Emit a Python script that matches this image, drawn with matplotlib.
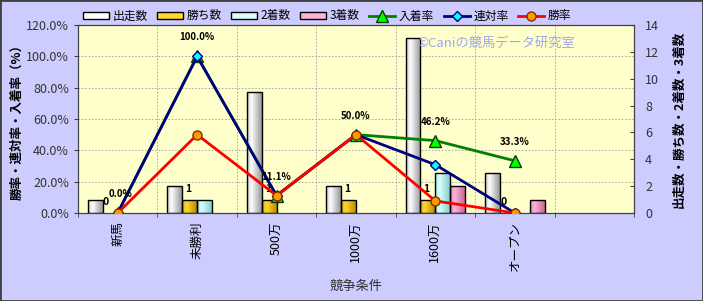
import numpy as np
import matplotlib
matplotlib.use('Agg')
import matplotlib.pyplot as plt
from matplotlib.patches import Rectangle

plt.rcParams['font.family'] = ['Noto Sans CJK JP', 'DejaVu Sans']

# data
categories = ['新馬', '未勝利', '500万', '1000万', '1600万', 'オープン']
runs = [1, 2, 9, 2, 13, 3]          # 出走数
wins = [0, 1, 1, 1, 1, 0]           # 勝ち数
seconds = [0, 1, 0, 0, 3, 0]        # 2着数
thirds = [0, 0, 0, 0, 2, 1]         # 3着数
place_rate = [0.0, 100.0, 11.1, 50.0, 46.2, 33.3]   # 入着率
top2_rate = [0.0, 100.0, 11.1, 50.0, 30.8, 0.0]     # 連対率
win_rate = [0.0, 50.0, 11.1, 50.0, 7.7, 0.0]        # 勝率
place_labels = ['0.0%', '100.0%', '11.1%', '50.0%', '46.2%', '33.3%']

bg = '#CCCCFF'
plot_bg = '#FFFFCC'

fig = plt.figure(figsize=(7.03, 3.01), dpi=100, facecolor=bg)
ax = fig.add_axes([78 / 703, 1 - 213 / 301, 556 / 703, 188 / 301])
ax.set_facecolor(plot_bg)

x = np.arange(len(categories))
w = 0.188
bar_series = [
    (runs, '出走数', '#8c8c8c', '#ffffff'),
    (wins, '勝ち数', '#b38600', '#ffd633'),
    (seconds, '2着数', '#7fc8c8', '#d9ffff'),
    (thirds, '3着数', '#c0608f', '#ffb3d9'),
]


def shade_bars(bars, dark, light):
    # cylinder-like horizontal gradient clipped to each bar
    cmap = matplotlib.colors.LinearSegmentedColormap.from_list('g', [dark, light, dark], N=64)
    grad = np.linspace(0, 1, 64).reshape(1, -1)
    grad = np.interp(grad, [0, 0.3, 1], [0.25, 0.5, 0.95])
    for b in bars:
        if b.get_height() <= 0:
            continue
        x0, y0 = b.get_x(), b.get_y()
        im = ax.imshow(grad, cmap=cmap, vmin=0, vmax=1, aspect='auto',
                       extent=[x0, x0 + b.get_width(), y0, y0 + b.get_height()],
                       zorder=2, interpolation='bicubic')
        im.set_clip_path(b)


handles = []
for i, (vals, name, dark, light) in enumerate(bar_series):
    pos = x - 1.5 * w + i * w
    bars = ax.bar(pos, vals, w, color=light, edgecolor='black', linewidth=1.0,
                  label=name, zorder=3)
    for b in bars:
        b.set_facecolor('none')
        if b.get_height() <= 0:
            b.set_edgecolor('none')
    shade_bars(bars, dark, light)
    handles.append(Rectangle((0, 0), 1, 1, facecolor=light, edgecolor='black', linewidth=1.0))
    if name == '勝ち数':
        for xi, v in zip(pos, vals):
            ax.annotate(str(v), (xi, v), xytext=(-3 if v == 0 else -1, 4),
                        textcoords='offset points',
                        ha='center', va='bottom', fontsize=7.5, fontweight='bold')

ax.set_xlim(-0.5, 6.5)
ax.set_ylim(0, 14)
ax.set_xticks(x)
ax.set_xticklabels(categories, rotation=90, fontsize=9)
ax.set_xticks(np.arange(-0.5, 7, 1), minor=True)
ax.tick_params(axis='x', which='major', length=0, pad=6)
ax.tick_params(axis='x', which='minor', length=3, color='#404040')
ax.set_xlabel('競争条件', fontsize=9.5, color='#333333', labelpad=6)
for s in ax.spines.values():
    s.set_color('#404040')

# rate lines on the left axis
ax2 = ax.twinx()

# counts on the right side (twinx resets the side, so set it here)
ax.yaxis.tick_right()
ax.yaxis.set_label_position('right')
ax.set_yticks(np.arange(0, 15, 2))
ax.set_yticks(np.linspace(0, 14, 7), minor=True)
ax.tick_params(axis='y', which='major', direction='in', length=3, labelsize=9,
               labelcolor='#333333', color='#404040', pad=8, left=False, labelleft=False,
               right=True, labelright=True)
ax.tick_params(axis='y', which='minor', length=0)
ax.grid(which='minor', color='#a0a0a0', linestyle=(0, (2, 2)), linewidth=0.6, zorder=0)
ax.grid(which='major', visible=False)
ax.set_axisbelow(True)
ax.set_ylabel('出走数・勝ち数・2着数・3着数', fontsize=9, fontweight='bold', labelpad=10)

ax2.set_ylim(0, 120)
ax2.yaxis.tick_left()
ax2.yaxis.set_label_position('left')
ax2.set_yticks(np.arange(0, 121, 20))
ax2.set_yticklabels(['%.1f%%' % v for v in np.arange(0, 121, 20)])
ax2.tick_params(axis='y', length=3, labelsize=9, labelcolor='#333333', color='#404040',
                right=False, labelright=False, left=True, labelleft=True)
ax2.set_ylabel('勝率・連対率・入着率（%）', fontsize=9, fontweight='bold', labelpad=2)
for s in ax2.spines.values():
    s.set_color('#404040')

l1, = ax2.plot(x, place_rate, color='#008000', linewidth=2, marker='^', markersize=8,
               markerfacecolor='#00ff00', markeredgecolor='#004000', label='入着率', zorder=3)
l2, = ax2.plot(x, top2_rate, color='#000080', linewidth=2, marker='D', markersize=5,
               markerfacecolor='#00ffff', markeredgecolor='#000080', label='連対率', zorder=4)
l3, = ax2.plot(x, win_rate, color='#ff0000', linewidth=2, marker='o', markersize=6.5,
               markerfacecolor='#ff9900', markeredgecolor='#803000', label='勝率', zorder=5)
for xi, v, t in zip(x, place_rate, place_labels):
    ax2.annotate(t, (xi, v), xytext=(2 if xi == 0 else 0, 10), textcoords='offset points',
                 ha='center', va='bottom', fontsize=7, fontweight='bold', zorder=6)

ax2.text(0.611, 0.904, '©Caniの競馬データ研究室', transform=ax2.transAxes,
         fontsize=9.5, color='#9fa6ee', va='center', ha='left', zorder=7)

names = [b[1] for b in bar_series] + ['入着率', '連対率', '勝率']
fig.legend(handles + [l1, l2, l3], names, loc='center', ncol=7,
           bbox_to_anchor=(0.465, 0.947), frameon=False, fontsize=8.5,
           handlelength=2.2, handleheight=0.5, columnspacing=0.8, handletextpad=0.3)

fig.patches.append(Rectangle((0, 0), 1, 1, transform=fig.transFigure, fill=False,
                             edgecolor='#404040', linewidth=2))

fig.savefig('out.png', dpi=100, facecolor=bg)
